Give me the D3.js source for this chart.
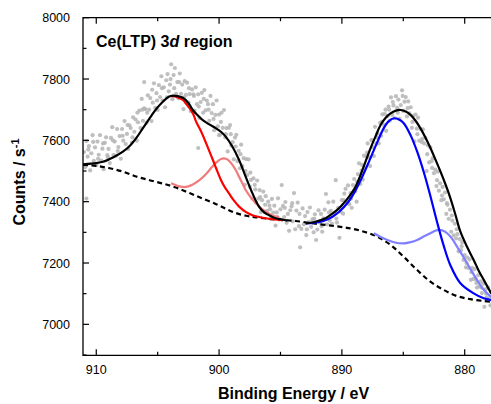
<!DOCTYPE html>
<html>
<head>
<meta charset="utf-8">
<script src="https://cdn.jsdelivr.net/npm/d3@7"></script>
<style>
  html, body { margin: 0; padding: 0; background: #fff; }
  svg { display: block; }
  text { font-family: "Liberation Sans", Arial, sans-serif; fill: #000; }
</style>
</head>
<body>
<svg id="chart" width="491" height="404"></svg>
<script>
// Ce 3d XPS region: measured counts, fitted envelope, components and background
const xTicks = [910, 900, 890, 880];
const xMinorTicks = [905, 895, 885];
const yTicks = [7000, 7200, 7400, 7600, 7800, 8000];
const yMinorTicks = [6900, 7100, 7300, 7500, 7700, 7900];

// measured points [binding energy, counts]
const measured = [
  [911.0,7562],[910.9,7512],[910.8,7598],[910.8,7410],[910.7,7547],[910.6,7581],[910.5,7502],[910.4,7558],[910.3,7617],[910.2,7533],
  [910.1,7577],[910.0,7519],[909.9,7596],[909.8,7553],[909.7,7617],[909.6,7534],[909.5,7573],[909.4,7506],[909.3,7592],[909.2,7610],
  [909.1,7552],[909.0,7572],[908.9,7526],[908.8,7608],[908.7,7643],[908.6,7552],[908.5,7596],[908.4,7550],[908.3,7637],[908.2,7578],
  [908.1,7614],[908.0,7540],[907.9,7637],[907.8,7599],[907.7,7663],[907.6,7588],[907.5,7621],[907.4,7572],[907.3,7649],[907.2,7640],
  [907.1,7593],[907.0,7675],[906.9,7628],[906.8,7668],[906.7,7599],[906.6,7659],[906.5,7697],[906.4,7640],[906.3,7735],[906.2,7664],
  [906.1,7704],[906.1,7790],[906.0,7702],[905.9,7657],[905.8,7747],[905.7,7700],[905.6,7738],[905.5,7663],[905.4,7723],[905.3,7786],
  [905.2,7706],[905.1,7754],[905.0,7699],[904.9,7780],[904.8,7741],[904.7,7809],[904.6,7730],[904.5,7773],[904.4,7708],[904.3,7796],
  [904.2,7816],[904.1,7760],[904.0,7782],[903.9,7848],[903.8,7734],[903.7,7813],[903.6,7836],[903.5,7752],[903.4,7790],[903.3,7737],
  [903.2,7818],[903.1,7752],[903.0,7782],[902.9,7702],[902.8,7793],[902.7,7748],[902.6,7788],[902.5,7724],[902.4,7751],[902.3,7695],
  [902.2,7766],[902.1,7750],[902.0,7697],[901.9,7773],[901.8,7718],[901.7,7750],[901.7,7575],[901.6,7673],[901.5,7725],[901.4,7755],
  [901.3,7690],[901.2,7764],[901.1,7698],[901.0,7730],[900.9,7718],[900.8,7664],[900.7,7745],[900.6,7689],[900.5,7718],[900.4,7633],
  [900.3,7683],[900.2,7730],[900.1,7646],[900.0,7684],[900.0,7617],[899.9,7619],[899.8,7690],[899.7,7641],[899.6,7699],[899.5,7610],
  [899.4,7640],[899.3,7564],[899.2,7641],[899.1,7650],[899.0,7583],[898.9,7594],[898.8,7538],[898.7,7609],[898.6,7618],[898.5,7532],
  [898.4,7566],[898.3,7509],[898.2,7586],[898.1,7516],[898.0,7542],[897.9,7455],[897.8,7539],[897.7,7487],[897.6,7538],[897.5,7449],
  [897.4,7471],[897.3,7410],[897.2,7476],[897.1,7455],[897.0,7397],[896.9,7469],[896.8,7410],[896.7,7438],[896.6,7366],[896.5,7405],
  [896.4,7433],[896.3,7366],[896.2,7418],[896.1,7370],[896.0,7400],[895.9,7387],[895.8,7344],[895.7,7409],[895.6,7364],[895.5,7387],
  [895.4,7322],[895.3,7365],[895.2,7411],[895.1,7342],[895.0,7375],[894.9,7454],[894.8,7386],[894.7,7350],[894.6,7399],[894.5,7331],
  [894.4,7360],[894.3,7305],[894.2,7372],[894.1,7385],[894.0,7336],[893.9,7428],[893.8,7310],[893.7,7371],[893.6,7397],[893.5,7320],
  [893.4,7251],[893.3,7311],[893.2,7378],[893.1,7326],[893.0,7353],[892.9,7291],[892.8,7366],[892.7,7333],[892.6,7381],[892.5,7318],
  [892.4,7342],[892.3,7300],[892.2,7359],[892.1,7275],[892.0,7309],[891.9,7372],[891.8,7332],[891.7,7360],[891.6,7302],[891.5,7346],
  [891.4,7374],[891.3,7425],[891.2,7326],[891.1,7398],[891.0,7339],[890.9,7370],[890.8,7328],[890.7,7400],[890.6,7362],[890.5,7470],
  [890.4,7332],[890.3,7380],[890.2,7282],[890.1,7367],[890.0,7405],[889.9,7361],[889.8,7426],[889.7,7442],[889.6,7399],[889.5,7453],
  [889.4,7392],[889.3,7428],[889.2,7380],[889.1,7454],[889.0,7474],[888.9,7434],[888.8,7400],[888.7,7490],[888.6,7525],[888.5,7458],
  [888.4,7501],[888.3,7472],[888.2,7550],[888.1,7510],[888.0,7548],[887.9,7590],[887.8,7545],[887.7,7516],[887.6,7601],[887.5,7578],
  [887.4,7549],[887.3,7644],[887.2,7590],[887.1,7623],[887.0,7590],[886.9,7657],[886.8,7615],[886.7,7685],[886.6,7651],[886.5,7686],
  [886.4,7631],[886.3,7679],[886.2,7710],[886.1,7664],[886.0,7740],[885.9,7683],[885.8,7714],[885.7,7672],[885.6,7744],[885.5,7706],
  [885.4,7733],[885.3,7670],[885.2,7715],[885.1,7763],[885.0,7696],[884.9,7726],[884.8,7741],[884.7,7678],[884.6,7727],[884.5,7688],
  [884.4,7708],[884.3,7641],[884.2,7680],[884.1,7597],[884.0,7684],[883.9,7638],[883.8,7674],[883.7,7599],[883.6,7637],[883.5,7595],
  [883.4,7636],[883.3,7590],[883.2,7608],[883.1,7500],[883.0,7584],[882.9,7528],[882.8,7577],[882.7,7532],[882.6,7542],[882.5,7493],
  [882.4,7505],[882.3,7451],[882.2,7498],[882.1,7436],[882.0,7460],[881.9,7405],[881.8,7448],[881.7,7408],[881.6,7430],[881.5,7360],
  [881.4,7390],[881.3,7344],[881.2,7374],[881.1,7302],[881.0,7338],[880.9,7290],[880.8,7328],[880.7,7280],[880.6,7294],[880.5,7238],
  [880.4,7278],[880.3,7242],[880.2,7268],[880.1,7210],[880.0,7226],[879.9,7186],[879.8,7218],[879.7,7184],[879.6,7212],[879.5,7145],
  [879.4,7184],[879.3,7148],[879.2,7180],[879.1,7148],[879.0,7120],[878.9,7160],[878.8,7124],[878.7,7140],[878.6,7102],[878.5,7132],
  [878.4,7057],[878.3,7114],[878.2,7087],[878.1,7120],[878.0,7085],[877.9,7062],[877.8,7105],
  [910.65,7570],[910.25,7595],[909.85,7540],[909.45,7590],[909.05,7545],[908.65,7600],[908.25,7565],[907.85,7615],[907.45,7650],
  [907.05,7610],[906.65,7690],[906.25,7700],[905.85,7690],[905.45,7765],[905.05,7730],[904.65,7770],[904.25,7740],[903.95,7800],
  [903.65,7770],[903.25,7790],[902.85,7740],[902.45,7770],[902.05,7745],[901.65,7710],[901.25,7735],[900.85,7700],[900.45,7670],
  [899.85,7660],[899.45,7620],[899.05,7620],[898.65,7580],[898.25,7555],[897.85,7500],[897.45,7495],[897.05,7440],[896.65,7415],
  [896.25,7390],[895.85,7375],[895.25,7350],[894.65,7380],[894.05,7395],[893.45,7360],[892.85,7310],[892.25,7345],[891.65,7320],
  [891.05,7365],[890.45,7345],[889.85,7405],[889.25,7410],[888.75,7465],[888.35,7520],[887.95,7560],[887.55,7600],[887.15,7610],
  [886.75,7660],[886.45,7700],[886.15,7700],[885.85,7725],[885.45,7690],[885.05,7745],[884.65,7705],[884.25,7660],[883.85,7620],
  [883.45,7605],[883.05,7555],[882.65,7510],[882.25,7470],[881.85,7420],[881.45,7395],[881.05,7355],[880.65,7310],[880.25,7255],
  [879.85,7200],[879.45,7170],[879.05,7135],[878.65,7120],[878.25,7100]
];

// fitted envelope (two segments) [binding energy, counts]
const envelopeA = [
  [911.08,7522],[910.0,7526],[909.46,7530],[908.6,7545],[907.83,7563],[907.2,7585],[906.75,7607],[906.2,7640],
  [905.66,7672],[905.1,7703],[904.58,7726],[904.1,7742],[903.76,7746],[903.35,7744],[902.95,7739],[902.5,7722],
  [902.14,7699],[901.7,7680],[901.33,7666],[900.8,7652],[900.24,7639],[899.85,7628],[899.46,7612],[898.91,7579],
  [898.37,7536],[897.83,7481],[897.28,7427],[896.75,7384],[896.3,7364],[895.93,7356],[895.4,7346],[894.85,7342],[894.44,7338]
];
const envelopeB = [
  [892.95,7329],[892.3,7333],[891.8,7339],[891.33,7346],[890.8,7360],[890.24,7378],[889.83,7396],[889.43,7416],
  [888.89,7449],[888.48,7487],[888.1,7528],[887.67,7574],[887.25,7614],[886.85,7650],[886.45,7673],[886.04,7688],
  [885.6,7697],[885.22,7699],[884.8,7694],[884.41,7683],[884.0,7664],[883.6,7639],[883.2,7609],[882.78,7574],
  [882.38,7537],[881.97,7498],[881.56,7456],[881.16,7411],[880.76,7358],[880.35,7302],[879.8,7252],[879.27,7210],
  [878.86,7175],[878.45,7145],[877.83,7100]
];

// Ce 3d3/2 components
const peakRed = [
  [903.9,7744],[903.4,7741],[902.95,7732],[902.7,7720],[902.4,7705],[902.1,7685],[901.87,7661],[901.6,7640],
  [901.33,7617],[901.05,7590],[900.78,7563],[900.5,7536],[900.24,7509],[899.84,7470],[899.5,7445],[899.19,7427],
  [898.8,7404],[898.37,7384],[897.8,7366],[897.28,7356],[896.7,7350],[896.2,7346],[895.5,7342],[894.85,7340]
];
const peakPink = [
  [903.9,7460],[903.4,7452],[902.95,7448],[902.5,7450],[902.14,7456],[901.6,7470],[901.06,7490],[900.6,7512],
  [900.24,7527],[899.9,7538],[899.6,7541],[899.3,7537],[898.91,7520],[898.6,7500],[898.37,7481],[898.1,7460],
  [897.83,7438],[897.4,7413],[897.0,7395],[896.6,7379],[896.2,7367],[895.7,7356],[895.12,7349]
];

// Ce 3d5/2 components
const peakBlue = [
  [892.95,7329],[892.3,7331],[891.5,7337],[890.8,7350],[890.2,7368],[889.5,7398],[888.9,7436],[888.4,7476],
  [887.8,7530],[887.1,7596],[886.6,7639],[886.2,7662],[885.75,7672],[885.35,7668],[884.96,7656],[884.41,7617],
  [883.87,7563],[883.33,7496],[882.79,7418],[882.24,7332],[881.7,7255],[881.16,7192],[880.35,7134],[879.27,7101],
  [878.45,7085],[877.83,7079]
];
const peakLightBlue = [
  [887.4,7297],[886.8,7284],[886.3,7275],[885.6,7266],[884.96,7264],[884.4,7268],[883.87,7275],[883.3,7287],
  [882.79,7297],[882.4,7305],[882.1,7308],[881.75,7305],[881.43,7297],[881.0,7278],[880.62,7253],[880.2,7226],
  [879.8,7199],[879.4,7171],[878.99,7144],[878.6,7120],[878.18,7101],[877.83,7090]
];

// Shirley-type background
const background = [
  [911.08,7520],[910.0,7517],[908.9,7509],[907.83,7498],[906.75,7482],[905.66,7470],[904.58,7459],[903.5,7446],
  [902.4,7428],[901.33,7410],[900.24,7392],[899.4,7376],[898.64,7363],[897.8,7354],[897.0,7349],[895.4,7342],
  [893.76,7337],[892.14,7328],[890.51,7320],[889.3,7313],[888.2,7302],[887.12,7286],[886.04,7259],[884.96,7220],
  [883.87,7177],[882.79,7139],[881.7,7112],[880.62,7092],[879.54,7082],[878.45,7076],[877.83,7074]
];

const plot = { left: 83, top: 17.7, right: 504, bottom: 355.3 };

const svg = d3.select("#chart");

const x = d3.scaleLinear().domain([911.08, 876.8]).range([plot.left, plot.right]);
const y = d3.scaleLinear().domain([6899, 8000]).range([plot.bottom, plot.top]);

svg.append("clipPath").attr("id", "plot-clip")
  .append("rect")
  .attr("x", plot.left).attr("y", plot.top)
  .attr("width", plot.right - plot.left).attr("height", plot.bottom - plot.top);

const body = svg.append("g").attr("clip-path", "url(#plot-clip)");

// measured counts
body.append("g").selectAll("circle")
  .data(measured)
  .join("circle")
  .attr("cx", d => x(d[0]))
  .attr("cy", d => y(d[1]))
  .attr("r", 2.1)
  .attr("fill", "#b4b4b4")
  .attr("fill-opacity", 0.85);

const line = d3.line()
  .x(d => x(d[0]))
  .y(d => y(d[1]))
  .curve(d3.curveCatmullRom.alpha(0.5));

function drawLine(data, color, dash) {
  body.append("path")
    .datum(data)
    .attr("d", line)
    .attr("fill", "none")
    .attr("stroke", color)
    .attr("stroke-width", 2.2)
    .attr("stroke-linejoin", "round")
    .attr("stroke-dasharray", dash || null);
}

drawLine(background, "#000000", "5,3.5");
drawLine(peakPink, "#f27a7a");
drawLine(peakRed, "#ff0000");
drawLine(peakLightBlue, "#7f7fff");
drawLine(peakBlue, "#0000ff");
drawLine(envelopeA, "#000000");
drawLine(envelopeB, "#000000");

// frame
const frame = svg.append("g").attr("stroke", "#000").attr("stroke-width", 1.3).attr("fill", "none");
frame.append("line").attr("x1", plot.left).attr("x2", plot.left).attr("y1", plot.top - 0.6).attr("y2", plot.bottom + 0.6);
frame.append("line").attr("x1", plot.left).attr("x2", plot.right).attr("y1", plot.top).attr("y2", plot.top);
frame.append("line").attr("x1", plot.left).attr("x2", plot.right).attr("y1", plot.bottom).attr("y2", plot.bottom);
frame.append("line").attr("x1", plot.right).attr("x2", plot.right).attr("y1", plot.top).attr("y2", plot.bottom);

// ticks pointing inward
const ticks = svg.append("g").attr("stroke", "#000").attr("stroke-width", 1.2);
xTicks.forEach(v => {
  ticks.append("line").attr("x1", x(v)).attr("x2", x(v)).attr("y1", plot.bottom).attr("y2", plot.bottom - 6);
  ticks.append("line").attr("x1", x(v)).attr("x2", x(v)).attr("y1", plot.top).attr("y2", plot.top + 6);
});
xMinorTicks.forEach(v => {
  ticks.append("line").attr("x1", x(v)).attr("x2", x(v)).attr("y1", plot.bottom).attr("y2", plot.bottom - 3.5);
  ticks.append("line").attr("x1", x(v)).attr("x2", x(v)).attr("y1", plot.top).attr("y2", plot.top + 3.5);
});
yTicks.forEach(v => {
  ticks.append("line").attr("x1", plot.left).attr("x2", plot.left + 6).attr("y1", y(v)).attr("y2", y(v));
});
yMinorTicks.forEach(v => {
  ticks.append("line").attr("x1", plot.left).attr("x2", plot.left + 3.5).attr("y1", y(v)).attr("y2", y(v));
});

// tick labels
svg.append("g").selectAll("text")
  .data(xTicks)
  .join("text")
  .attr("x", d => x(d))
  .attr("y", 373.5)
  .attr("text-anchor", "middle")
  .attr("font-size", 12.5)
  .text(d => d);

svg.append("g").selectAll("text")
  .data(yTicks)
  .join("text")
  .attr("x", 70)
  .attr("y", d => y(d) + 4.5)
  .attr("text-anchor", "end")
  .attr("font-size", 12.5)
  .text(d => d);

// axis titles
svg.append("text")
  .attr("x", 293.5)
  .attr("y", 399)
  .attr("text-anchor", "middle")
  .attr("font-size", 16)
  .attr("font-weight", "bold")
  .text("Binding Energy / eV");

const yTitle = svg.append("text")
  .attr("transform", "translate(25,182) rotate(-90)")
  .attr("text-anchor", "middle")
  .attr("font-size", 16)
  .attr("font-weight", "bold");
yTitle.append("tspan").text("Counts / s");
yTitle.append("tspan").attr("dy", -6).attr("font-size", 11).text("-1");

// panel label
const label = svg.append("text")
  .attr("x", 96)
  .attr("y", 47)
  .attr("font-size", 16)
  .attr("font-weight", "bold");
label.append("tspan").text("Ce(LTP) 3");
label.append("tspan").attr("font-style", "italic").text("d");
label.append("tspan").text(" region");
</script>
</body>
</html>
